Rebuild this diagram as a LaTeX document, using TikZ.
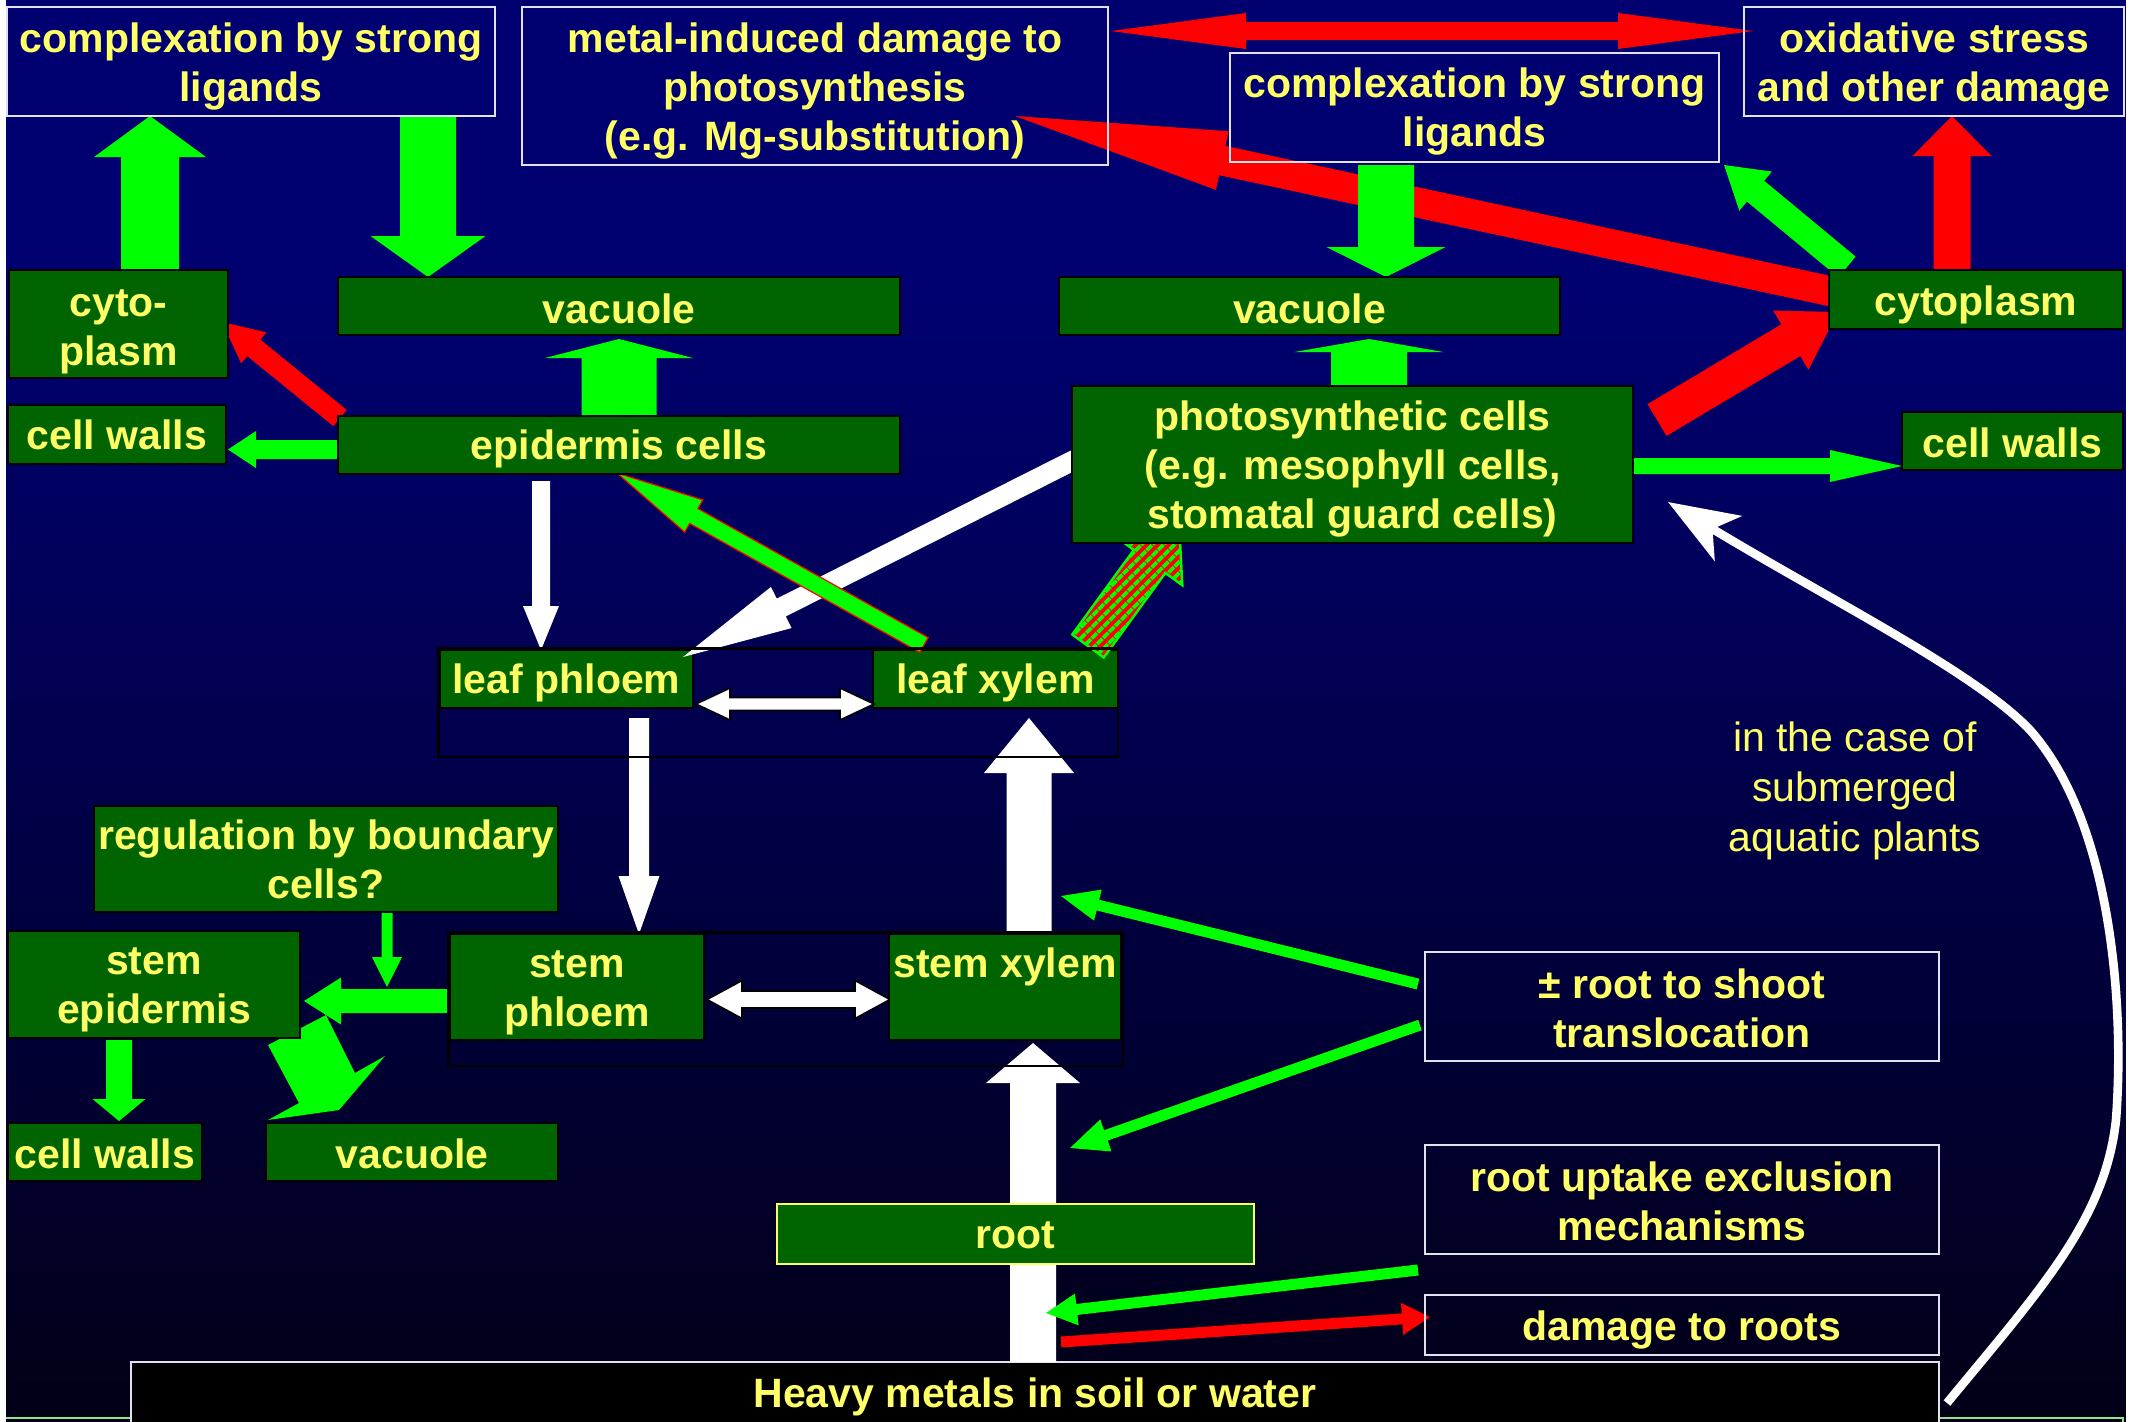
\documentclass[tikz,border=0pt]{standalone}
\usepackage{fontspec}
\setmainfont{Liberation Sans}
\usetikzlibrary{arrows.meta,patterns.meta}
\definecolor{bgtop}{RGB}{0,0,112}
\definecolor{bgbot}{RGB}{2,0,22}
\definecolor{dkgreen}{RGB}{0,100,0}
\definecolor{grn}{RGB}{0,255,0}
\definecolor{rd}{RGB}{255,0,0}
\definecolor{txtyellow}{RGB}{255,255,102}
\definecolor{boxwhite}{RGB}{225,225,240}
\definecolor{frameg}{RGB}{140,230,140}
\newcommand\bftext{\fontsize{20.5}{24.5}\selectfont\bfseries}
% block arrow: style, x1, y1, x2(tip), y2(tip), shaft width, head width, head length
\newcommand\barrow[8]{%
 \pgfmathsetmacro\bdx{#4-(#2)}%
 \pgfmathsetmacro\bdy{#5-(#3)}%
 \pgfmathsetmacro\bL{veclen(\bdx,\bdy)}%
 \pgfmathsetmacro\bux{\bdx/\bL}%
 \pgfmathsetmacro\buy{\bdy/\bL}%
 \pgfmathsetmacro\bnx{-1*(\buy)}%
 \pgfmathsetmacro\bny{\bux}%
 \pgfmathsetmacro\bbx{#4-#8*(\bux)}%
 \pgfmathsetmacro\bby{#5-#8*(\buy)}%
 \pgfmathsetmacro\bs{#6/2}%
 \pgfmathsetmacro\bh{#7/2}%
 \path[#1] ({#2+\bs*(\bnx)},{#3+\bs*(\bny)}) -- ({\bbx+\bs*(\bnx)},{\bby+\bs*(\bny)}) -- ({\bbx+\bh*(\bnx)},{\bby+\bh*(\bny)}) -- (#4,#5) -- ({\bbx-\bh*(\bnx)},{\bby-\bh*(\bny)}) -- ({\bbx-\bs*(\bnx)},{\bby-\bs*(\bny)}) -- ({#2-\bs*(\bnx)},{#3-\bs*(\bny)}) -- cycle;%
}
% horizontal double arrow: style, x1, x2, y, shaft width, head width, head length
\newcommand\dbarrow[7]{%
 \pgfmathsetmacro\ds{#5/2}\pgfmathsetmacro\dh{#6/2}%
 \path[#1] (#2,#4) -- ({#2+#7},{#4-\dh}) -- ({#2+#7},{#4-\ds}) -- ({#3-#7},{#4-\ds}) -- ({#3-#7},{#4-\dh}) -- (#3,#4) -- ({#3-#7},{#4+\dh}) -- ({#3-#7},{#4+\ds}) -- ({#2+#7},{#4+\ds}) -- ({#2+#7},{#4+\dh}) -- cycle;%
}
% box with text: style, name, cx, cy, width(pt), height(pt), text shift down(pt), text
\newcommand\bx[8]{%
 \node[#1, minimum width=#5pt, minimum height=#6pt, label={[txt, yshift=-#7pt]center:{#8}}] (#2) at (#3,#4) {};%
}
\begin{document}
\begin{tikzpicture}[x=0.5pt,y=-0.5pt,
 txt/.style={font=\bftext, text=txtyellow, align=center, inner sep=0pt},
 gbox/.style={draw=black, line width=1.3pt, fill=dkgreen, inner sep=0pt},
 nbox/.style={draw=boxwhite, line width=1.3pt, inner sep=0pt},
 frame/.style={draw=black, line width=1.3pt},
 hatch/.style={preaction={fill=rd}, pattern={Lines[angle=45,distance=4pt,line width=2pt]}, pattern color=grn, draw=grn, line width=1.2pt}]
\useasboundingbox (0,0) rectangle (2138,1421);
\fill[white] (0,0) rectangle (2138,1421);
% background gradient
\foreach \i in {0,...,142}{%
 \pgfmathsetmacro\yy{\i*10}%
 \pgfmathsetmacro\pp{max(0,min(100,(\yy-300)/11.21))}%
 \fill[bgbot!\pp!bgtop] (6,{\yy}) rectangle (2126,{\yy+11});
}
\draw[frameg, line width=1.3pt] (6,1418) -- (2123,1418) -- (2123,1440);
% leaf boxes (under arrows)
\bx{gbox}{lph}{566.5}{679}{126.5}{29}{2}{leaf phloem}
\bx{gbox}{lxy}{995.5}{679}{122.5}{29}{2}{leaf xylem}
% heavy metals
\bx{draw=boxwhite, fill=black, line width=1.3pt, inner sep=0pt}{hm}{1035}{1394}{904}{32}{1.4}{Heavy metals in soil or water}
% white arrows
\barrow{fill=white}{541}{481}{541}{650}{18}{36}{44}
\barrow{fill=white}{1090}{452}{683}{657}{20}{46}{110}
\barrow{fill=white}{1029}{934}{1029}{718}{45}{90}{55}
\barrow{fill=white}{1033}{1362}{1033}{1043}{46}{94}{40}
\barrow{fill=white}{639}{718}{639}{934}{20}{41}{58}
\dbarrow{fill=white,draw=black,line width=0.8pt}{696}{874}{704}{13}{32}{34}
\dbarrow{fill=white,draw=black,line width=0.8pt}{707}{890}{999.5}{17}{38}{35}
\draw[white, line width=4.3pt, -{Stealth[length=35pt,width=26pt,inset=9pt]}] (1947,1403) .. controls (2040,1290) and (2105,1220) .. (2116,1120) .. controls (2125,1000) and (2110,820) .. (2030,730) .. controls (1975,672) and (1830,600) .. (1668,502);
% hatched arrow
\barrow{hatch}{1088}{646}{1179}{521}{39}{81}{50}
% red arrows
\barrow{fill=rd}{340}{418}{222}{322}{21}{40}{41}
\barrow{fill=rd}{1834}{292}{1015}{116}{30}{60}{212}
\barrow{fill=rd}{1952}{270}{1952}{116}{37}{79}{40}
\barrow{fill=rd}{1657}{420}{1838}{312}{37}{69}{55}
\barrow{fill=rd}{1061}{1342}{1430}{1317}{11}{32}{28}
\dbarrow{fill=rd}{1111}{1753}{31}{18}{36}{135}
% green arrows
\barrow{fill=grn}{150}{270}{150}{116}{58}{112}{41}
\barrow{fill=grn}{428}{116}{428}{277}{56}{115}{41}
\barrow{fill=grn}{619}{416}{619}{339}{75}{148}{19}
\barrow{fill=grn}{340}{449.5}{228}{449.5}{19}{37}{28}
\barrow{fill=grn}{1386}{165}{1386}{277}{56}{119}{30}
\barrow{fill=grn}{1369}{386}{1369}{339}{76}{149}{13}
\barrow{fill=grn}{1847}{267}{1724}{165}{27}{51}{41}
\barrow{fill=grn}{1633}{466}{1902}{466}{16}{32}{72}
\barrow{fill=grn,draw=rd,line width=0.6pt}{924}{645}{617}{473}{17}{37}{88}
\barrow{fill=grn}{1418}{984}{1061}{896}{11}{32}{38}
\barrow{fill=grn}{1420}{1025}{1070}{1148}{11}{34}{38}
\barrow{fill=grn}{1418}{1270}{1046}{1313}{11}{32}{31}
\barrow{fill=grn}{387}{913}{387}{987}{11}{30}{30}
\barrow{fill=grn}{449}{1001}{304}{1001}{24}{47}{37}
\barrow{fill=grn}{119}{1040}{119}{1121}{26}{53}{22}
\fill[grn] (268,1045) -- (326,1015) -- (355,1073) -- (385,1056) -- (339,1110) -- (268,1120) -- (299,1103) -- cycle;
% navy boxes
\bx{nbox}{b1}{251}{61.5}{244}{54.5}{2.7}{complexation by strong\\ligands}
\bx{nbox}{b2}{815}{86}{293}{79}{2.7}{metal-induced damage to\\photosynthesis\\(e.g. Mg-substitution)}
\bx{nbox}{b3}{1474.5}{107.5}{244.5}{54.5}{2}{complexation by strong\\ligands}
\bx{nbox}{b4}{1934}{61.5}{190}{54.5}{2.7}{oxidative stress\\and other damage}
\bx{nbox}{rts}{1682}{1006.5}{257}{54.5}{0.7}{± root to shoot\\translocation}
\bx{nbox}{rue}{1682}{1199.5}{257}{54.5}{0.7}{root uptake exclusion\\mechanisms}
\bx{nbox}{dtr}{1682}{1325}{257}{30}{2.7}{damage to roots}
% green boxes
\bx{gbox}{cyto}{118.5}{324}{109.5}{54}{3.7}{cyto-\\plasm}
\bx{gbox}{vacL}{619}{306}{281}{29}{1.4}{vacuole}
\bx{gbox}{cwL}{117}{434.5}{109}{29.5}{0}{cell walls}
\bx{gbox}{epi}{619}{445}{281}{29}{2}{epidermis cells}
\bx{gbox}{vacM}{1309.5}{306}{250.5}{29}{1.4}{vacuole}
\bx{gbox}{cytR}{1976}{299.5}{147}{29.5}{2.7}{cytoplasm}
\bx{gbox}{photo}{1352.5}{464.5}{280.5}{78.5}{2}{photosynthetic cells\\(e.g. mesophyll cells,\\stomatal guard cells)}
\bx{gbox}{cwR}{2012.5}{441}{110.5}{29}{0.7}{cell walls}
\bx{gbox}{reg}{326}{859}{232}{53}{0}{regulation by boundary\\cells?}
\bx{gbox}{sep}{154}{984.5}{146}{53.5}{2.7}{stem\\epidermis}
\bx{gbox}{sph}{577}{987}{127}{53}{2.7}{stem\\phloem}
\node[gbox, minimum width=116pt, minimum height=53pt] (sxy) at (1005,987) {};
\node[txt, anchor=base] (sxylbl) at (1005,977.5) {stem xylem};
\bx{gbox}{cwB}{105}{1152}{97}{29}{0.7}{cell walls}
\bx{gbox}{vacB}{412}{1152}{146}{29}{0.7}{vacuole}
\bx{gbox, draw=txtyellow}{root}{1015.5}{1234}{238.5}{30}{0.7}{root}
% outline frames
\draw[frame] (lph.north west) rectangle (1118,757);
\draw[frame] (sph.north west) rectangle (1123,1066);
% note
\node[font=\fontsize{20.5}{25}\selectfont, text=txtyellow, align=center] (note) at (1855,791) {in the case of\\submerged\\aquatic plants};
\end{tikzpicture}
\end{document}
